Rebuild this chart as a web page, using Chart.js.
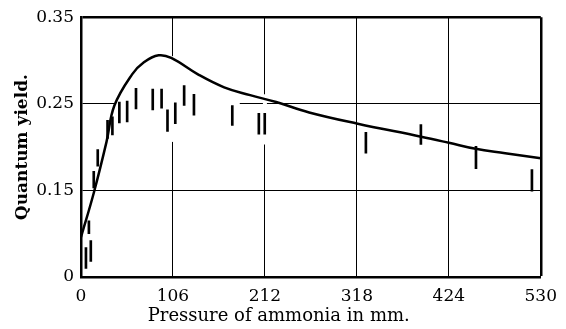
<!DOCTYPE html>
<html lang="en">
<head>
<meta charset="UTF-8">
<title>Quantum yield</title>
<script src="https://cdn.jsdelivr.net/npm/chart.js"></script>
<style>
    body { margin: 0; background: #fff; }
    #caixa { position: relative; width: 566px; height: 329px; }
</style>
</head>
<body>
<div id="caixa"><canvas id="grafico"></canvas></div>
<script>
    // smooth curve
    var curvaX = [0, 14.7, 29.4, 38.5, 58.9, 72.5, 89.5, 104, 134.8, 165, 195, 225, 263, 319, 392, 424, 455, 489, 530];
    var curvaY = [0.096, 0.147, 0.206, 0.248, 0.284, 0.298, 0.306, 0.303, 0.284, 0.269, 0.260, 0.252, 0.240, 0.227, 0.212, 0.205, 0.198, 0.193, 0.187];

    // measurements, drawn as vertical bars (low / high)
    var medX   = [5.7, 11.3, 9.1, 14.7, 19.3, 30.6, 36.2, 44.2, 53.2, 63.4, 82.7, 92.9, 99.7, 108.7, 118.9, 130.2, 174.4, 205, 211.8, 328.4, 391.8, 455.3, 519.8];
    var medMin = [0.060, 0.068, 0.100, 0.153, 0.178, 0.210, 0.214, 0.228, 0.229, 0.244, 0.243, 0.245, 0.218, 0.227, 0.248, 0.237, 0.225, 0.215, 0.215, 0.193, 0.203, 0.175, 0.149];
    var medMax = [0.084, 0.092, 0.115, 0.172, 0.197, 0.231, 0.235, 0.252, 0.253, 0.268, 0.267, 0.267, 0.243, 0.251, 0.271, 0.261, 0.248, 0.239, 0.239, 0.217, 0.226, 0.201, 0.174];

    var xTicks = [0, 106, 212, 318, 424, 530];
    var yTicks = [0.05, 0.15, 0.25, 0.35];
    var yLabels = ["0", "0.15", "0.25", "0.35"];

    var fonte = '"DejaVu Serif", serif';

    var pontosCurva = [];
    for (var i = 0; i < curvaX.length; i++) {
        pontosCurva.push({ x: curvaX[i], y: curvaY[i] });
    }
    var barras = [];
    for (var i = 0; i < medX.length; i++) {
        barras.push({ x: medX[i], y: [medMin[i], medMax[i]] });
    }

    // white gaps in some grid lines, like the printed figure
    var lacunas = {
        id: 'lacunas',
        beforeDatasetsDraw: function (chart) {
            var ctx = chart.ctx, sx = chart.scales.x, sy = chart.scales.y;
            ctx.save();
            ctx.fillStyle = '#fff';
            var yy = sy.getPixelForValue(0.25);
            ctx.fillRect(sx.getPixelForValue(38.5), yy - 2, sx.getPixelForValue(183) - sx.getPixelForValue(38.5), 4);
            var x1 = sx.getPixelForValue(106);
            ctx.fillRect(x1 - 2, sy.getPixelForValue(0.305), 4, sy.getPixelForValue(0.206) - sy.getPixelForValue(0.305));
            var x2 = sx.getPixelForValue(212);
            ctx.fillRect(x2 - 2, sy.getPixelForValue(0.261), 4, sy.getPixelForValue(0.203) - sy.getPixelForValue(0.261));
            ctx.restore();
        }
    };

    var tituloX = {
        id: 'tituloX',
        afterDraw: function (chart) {
            var ctx = chart.ctx, area = chart.chartArea;
            ctx.save();
            ctx.font = '18px ' + fonte;
            ctx.fillStyle = '#000';
            ctx.textAlign = 'center';
            ctx.textBaseline = 'middle';
            ctx.fillText('Pressure of ammonia in mm.', area.left + (area.right - area.left) * 0.43, chart.height - 13);
            ctx.restore();
        }
    };

    new Chart(document.getElementById('grafico'), {
        type: 'line',
        data: {
            datasets: [{
                type: 'line',
                data: pontosCurva,
                borderColor: '#000',
                borderWidth: 2.5,
                pointRadius: 0,
                tension: 0.4,
                fill: false
            }, {
                type: 'bar',
                data: barras,
                backgroundColor: '#000',
                borderWidth: 0,
                barThickness: 2,
                grouped: false
            }]
        },
        options: {
            responsive: true,
            maintainAspectRatio: false,
            animation: false,
            layout: { padding: { left: 0, right: 17, top: 14, bottom: 0 } },
            plugins: {
                legend: { display: false },
                tooltip: { enabled: false }
            },
            scales: {
                x: {
                    type: 'linear',
                    min: 0,
                    max: 530,
                    offset: false,
                    afterBuildTicks: function (scale) {
                        scale.ticks = xTicks.map(function (v) { return { value: v }; });
                    },
                    afterFit: function (scale) { scale.height = 52; },
                    grid: {
                        offset: false,
                        color: '#000',
                        drawTicks: false,
                        lineWidth: function (c) {
                            return c.tick && c.tick.value === 530 ? 2.5 : 1;
                        }
                    },
                    border: { display: true, color: '#000', width: 2.5 },
                    ticks: {
                        color: '#000',
                        font: { family: fonte, size: 17 },
                        padding: 9,
                        maxRotation: 0,
                        autoSkip: false
                    }
                },
                y: {
                    type: 'linear',
                    min: 0.05,
                    max: 0.35,
                    beginAtZero: false,
                    afterBuildTicks: function (scale) {
                        scale.ticks = yTicks.map(function (v) { return { value: v }; });
                    },
                    afterFit: function (scale) { scale.width = 81; },
                    grid: {
                        color: '#000',
                        drawTicks: false,
                        lineWidth: function (c) {
                            return c.tick && c.tick.value === 0.35 ? 2.5 : 1;
                        }
                    },
                    border: { display: true, color: '#000', width: 2.5 },
                    ticks: {
                        color: '#000',
                        font: { family: fonte, size: 17 },
                        padding: 7,
                        callback: function (v) {
                            var k = yTicks.indexOf(v);
                            return k >= 0 ? yLabels[k] : '';
                        }
                    },
                    title: {
                        display: true,
                        text: 'Quantum yield.',
                        color: '#000',
                        font: { family: fonte, size: 17, weight: 'bold' },
                        padding: { top: 12, bottom: 0 }
                    }
                }
            }
        },
        plugins: [lacunas, tituloX]
    });
</script>
</body>
</html>
